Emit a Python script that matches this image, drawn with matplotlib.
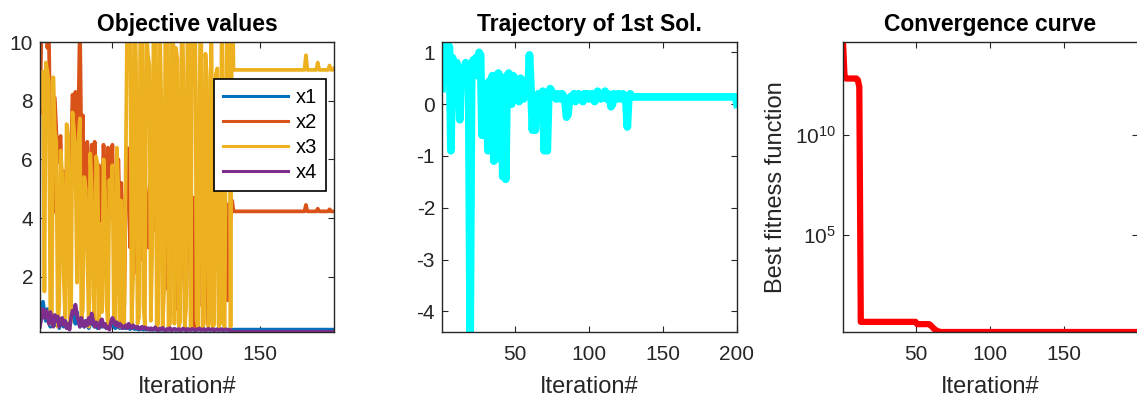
import matplotlib
matplotlib.use("Agg")
import matplotlib.pyplot as plt

plt.rcParams['font.family'] = ['Liberation Sans', 'DejaVu Sans']
plt.rcParams['axes.unicode_minus'] = False

# ---- data ----
iters = list(range(1, 201))

x1_vals = [0.4, 0.6, 1.15, 0.8, 0.5, 0.9, 0.6, 0.3, 0.7, 0.5,
           0.35, 0.6, 0.45, 0.25, 0.55, 0.4, 0.3, 0.5, 0.35, 0.25,
           0.45, 0.7, 1.0, 0.6, 0.4, 0.8, 0.5, 0.3, 0.45, 0.35,
           0.3, 0.5, 0.4, 0.25, 0.45, 0.6, 0.35, 0.3, 0.4, 0.25,
           0.35, 0.5, 0.3, 0.4, 0.3, 0.25, 0.35, 0.3, 0.5, 0.45,
           0.3, 0.25, 0.35, 0.3, 0.25, 0.3, 0.25, 0.3, 0.25, 0.3,
           0.25, 0.22, 0.3, 0.25, 0.22, 0.25, 0.22, 0.2, 0.25, 0.22,
           0.2, 0.22, 0.2, 0.22, 0.2] + [0.2] * 125

x2_vals = [7.6, 10.5, 11.2, 10.8, 12.0, 9.8, 10.4, 6.2, 7.1, 4.2,
           8.1, 7.0, 5.9, 6.7, 6.8, 3.4, 5.6, 4.0, 2.2, 5.1,
           3.3, 6.1, 8.2, 7.9, 8.3, 4.9, 7.4, 10.8, 6.3, 7.5,
           3.2, 5.3, 6.6, 2.9, 5.0, 6.5, 3.9, 6.6, 1.8, 4.7,
           5.8, 2.4, 4.5, 6.5, 5.2, 3.1, 6.4, 4.0, 5.2, 6.5,
           3.6, 5.0, 2.7, 6.0, 4.1, 5.2, 3.5, 1.0, 4.6, 6.4,
           5.4, 3.0, 4.2, 1.9, 5.8, 3.7, 2.1, 5.1, 4.4, 2.6,
           3.8, 5.3, 4.6, 3.0, 4.8, 5.4, 3.6, 4.7, 3.6, 4.3,
           2.1, 5.0, 3.3, 4.5, 2.9, 4.8, 1.6, 3.9, 0.7, 4.6,
           5.2, 2.4, 1.7, 0.9, 4.5, 5.3, 3.8, 2.6, 1.5, 1.3,
           4.0, 5.2, 3.3, 2.0, 4.7, 0.3, 3.1, 5.1, 2.2, 4.1,
           1.0, 3.7, 4.8, 2.5, 0.4, 4.3, 3.0, 0.8, 4.0, 2.7,
           4.4, 3.4, 0.6, 4.1, 2.3, 4.2, 3.6, 1.2, 4.5, 3.9,
           4.6] + [4.23] * 49 + [4.45] + [4.23] * 7 + [4.32] + [4.23] * 7 + [4.3] + [4.23] * 3

x3_vals = [7.8, 8.5, 9.0, 1.5, 9.3, 9.0, 8.6, 0.4, 0.5, 8.8,
           7.0, 6.6, 0.3, 1.0, 6.3, 5.5, 2.0, 0.6, 7.2, 6.8,
           0.3, 0.5, 7.6, 7.0, 6.0, 1.8, 6.6, 7.4, 0.5, 0.9,
           5.4, 5.0, 3.0, 0.3, 6.2, 5.1, 1.4, 0.4, 6.1, 5.8,
           0.4, 3.8, 0.8, 6.0, 4.9, 1.1, 0.3, 5.3, 4.2, 5.8,
           0.5, 0.4, 6.4, 5.0, 0.3, 4.6, 1.8, 0.4, 5.5, 10.8,
           12.0, 11.5, 0.3, 2.0, 11.8, 9.3, 0.4, 0.6, 12.4, 12.0,
           1.0, 0.3, 10.5, 9.6, 9.2, 0.5, 3.0, 12.0, 12.5, 0.3,
           0.4, 11.0, 8.2, 0.3, 1.5, 12.3, 11.0, 0.3, 0.4, 12.8,
           12.6, 0.4, 9.8, 9.4, 0.3, 0.5, 12.0, 9.0, 0.3, 1.0,
           12.5, 12.8, 0.3, 11.5, 10.5, 12.0, 0.5, 0.3, 8.5, 12.2,
           0.3, 0.4, 9.6, 8.8, 0.3, 2.5, 11.8, 0.3, 0.4, 8.9,
           9.1, 0.3, 0.5, 11.0, 0.4, 0.3, 9.0, 12.0, 12.5, 0.3,
           12.5] + [9.05] * 49 + [9.55] + [9.05] * 7 + [9.3] + [9.05] * 7 + [9.2] + [9.05] * 2 + [9.1]

x4_vals = [0.3, 0.7, 0.9, 0.6, 0.85, 0.75, 0.4, 0.8, 0.55, 0.3,
           0.7, 0.5, 0.65, 0.3, 0.55, 0.6, 0.35, 0.5, 0.25, 0.4,
           0.2, 0.6, 0.85, 0.75, 1.05, 0.7, 0.5, 0.3, 0.6, 0.45,
           0.3, 0.5, 0.35, 0.6, 0.4, 0.75, 0.5, 0.3, 0.45, 0.35,
           0.25, 0.5, 0.55, 0.3, 0.4, 0.25, 0.3, 0.2, 0.45, 0.6,
           0.5, 0.35, 0.45, 0.3, 0.4, 0.35, 0.25, 0.3, 0.35, 0.25,
           0.4, 0.3, 0.25, 0.35, 0.3, 0.25, 0.3, 0.25, 0.22, 0.3,
           0.25, 0.28, 0.22, 0.25, 0.2,
           0.25, 0.2, 0.22, 0.28, 0.2, 0.18, 0.24, 0.2, 0.26, 0.2,
           0.18, 0.22, 0.2, 0.25, 0.18, 0.2, 0.23, 0.19, 0.2, 0.22,
           0.18, 0.2, 0.24, 0.2, 0.18, 0.22, 0.2, 0.19, 0.23, 0.2,
           0.18, 0.21, 0.2, 0.24, 0.19, 0.2, 0.22, 0.18, 0.2, 0.23,
           0.19, 0.2, 0.22, 0.18, 0.2, 0.21, 0.19, 0.2, 0.22, 0.18,
           0.2, 0.21, 0.19, 0.2, 0.18] + [0.13] * 70

series_names = ['x1', 'x2', 'x3', 'x4']

traj_vals = [0.3, 1.2, 0.5, 1.2, 1.15, 1.1, -0.9, 0.9, 0.75, 0.65,
             0.8, 0.6, -0.3, 0.55, 0.7, 0.5, 0.8, 0.6, 0.3, -4.4,
             0.7, 0.85, 0.6, 0.9, 0.55, 1.0, 0.95, -0.6, 0.4, -0.6,
             0.3, -0.9, 0.45, -0.7, 0.55, -1.1, 0.5, -1.05, 0.6, 0.55,
             0.5, -1.4, 0.2, -1.45, 0.55, 0.6, 0.45, 0.0, 0.55, 0.5,
             0.3, 0.45, 0.05, 0.5, 0.4, 0.1, 0.45, 0.3, 0.2, 0.95,
             0.3, -0.5, 0.1, -0.5, 0.15, 0.2, 0.1, 0.15, 0.25, -0.9,
             0.2, -0.9, 0.2, 0.3, 0.25,
             0.2, 0.15, 0.1, 0.2, 0.15, 0.1, 0.2, 0.15, 0.05, -0.25,
             -0.2, 0.1, 0.15, 0.1, 0.2, 0.05, 0.15, 0.2, 0.1, 0.15,
             0.05, 0.2, 0.15, 0.2, 0.1, 0.15, 0.2, 0.1, 0.05, 0.2,
             0.25, 0.15, 0.1, 0.2, 0.15, 0.25, 0.1, 0.2, 0.15, -0.05,
             0.0, 0.2, 0.15, 0.1, 0.2, 0.15, 0.1, 0.2, 0.15, 0.1,
             -0.44, 0.15, 0.2, 0.14] + [0.14] * 70 + [0.0]

conv_vals = [4.3e14, 9e12] + [6.5e12] * 8 + [5.5e12, 2.5e12] + [4.8] * 38 \
    + [3.7] * 9 + [3.3, 2.8, 2.3, 2.0, 1.8, 1.65, 1.55] + [1.5] * 134

# ---- figure ----
W, H = 1137, 398
fig = plt.figure(figsize=(W / 100, H / 100), dpi=100)

def px_axes(left, right, top=42, bottom=332):
    return fig.add_axes([left / W, (H - bottom) / H, (right - left) / W, (bottom - top) / H])

spine_col = '#262626'
tick_fs = 15
lab_fs = 17
title_fs = 16.5

def style(ax):
    ax.tick_params(direction='in', top=True, right=True, length=4, width=0.8,
                   labelsize=tick_fs, colors=spine_col, labelcolor='#262626', pad=5)
    ax.tick_params(axis='x', pad=9)
    for s in ax.spines.values():
        s.set_color(spine_col)
        s.set_linewidth(1.0)
    ax.set_xlabel('Iteration#', fontsize=lab_fs, color='#262626', labelpad=9)

# Panel 1 - objective values
colors = ['#0072BD', '#D95319', '#EDB120', '#7E2F8E']
ax1 = px_axes(40, 334)
for vals, name, c in zip([x1_vals, x2_vals, x3_vals, x4_vals], series_names, colors):
    ax1.plot(iters, vals, color=c, lw=2.7, label=name)
ax1.set_xlim(1, 200)
ax1.set_ylim(0.12, 10)
ax1.set_xticks([50, 100, 150])
ax1.set_yticks([2, 4, 6, 8, 10])
ax1.set_title('Objective values', fontsize=title_fs, fontweight='bold', pad=8)
style(ax1)
leg = ax1.legend(loc='upper right', bbox_to_anchor=(0.973, 0.872), borderaxespad=0,
                 fontsize=14.5, handlelength=3.2, labelspacing=0.3, fancybox=False,
                 framealpha=1, edgecolor='black', borderpad=0.45, handletextpad=0.4)
leg.get_frame().set_linewidth(1.2)
for line in leg.get_lines():
    line.set_linewidth(2.2)

# Panel 2 - trajectory
ax2 = px_axes(442, 737)
ax2.plot(iters, traj_vals, color='#00FFFF', lw=5.6)
ax2.set_xlim(1, 200)
ax2.set_ylim(min(traj_vals), max(traj_vals))
ax2.set_xticks([50, 100, 150, 200])
ax2.set_yticks([-4, -3, -2, -1, 0, 1])
ax2.set_title('Trajectory of 1st Sol.', fontsize=title_fs, fontweight='bold', pad=8)
style(ax2)

# Panel 3 - convergence curve
ax3 = px_axes(843, 1138)
ax3.semilogy(iters, conv_vals, color='#FF0000', lw=4.5)
ax3.set_xlim(1, 200)
ax3.set_ylim(min(conv_vals), max(conv_vals))
ax3.set_xticks([50, 100, 150])
ax3.set_yticks([1e5, 1e10])
ax3.minorticks_off()
ax3.set_title('Convergence curve', fontsize=title_fs, fontweight='bold', pad=8)
style(ax3)
ax3.set_ylabel('Best fitness function', fontsize=lab_fs, color='#262626', labelpad=6)

fig.savefig('out.png', dpi=100)
